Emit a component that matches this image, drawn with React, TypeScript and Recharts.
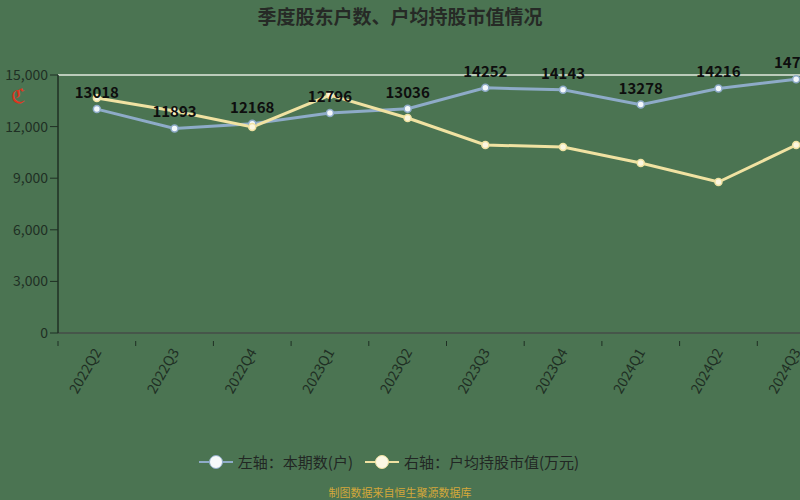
import React from "react";
import { ComposedChart, Line, XAxis, YAxis, CartesianGrid, LabelList } from "recharts";

const quarters = ["2022Q2", "2022Q3", "2022Q4", "2023Q1", "2023Q2", "2023Q3", "2023Q4", "2024Q1", "2024Q2", "2024Q3"];
const holders = [13018, 11893, 12168, 12796, 13036, 14252, 14143, 13278, 14216, 14758];
const avgValue = [27.33, 25.81, 23.95, 27.67, 25.0, 21.86, 21.63, 19.77, 17.56, 21.86];
const leftTicks = [0, 3000, 6000, 9000, 12000, 15000];

const seriesNames = ["左轴：本期数(户)", "右轴：户均持股市值(万元)"];

const data = quarters.map((q, i) => ({ quarter: q, holders: holders[i], avg: avgValue[i] }));

const BG = "#4b7452";
const BLUE = "#8eabc8";
const YELLOW = "#f0e2a2";
const AXIS = "#1f2f24";
const FONT = "'Noto Sans CJK SC', 'Noto Sans', sans-serif";

function QuarterTick(props: any) {
  const { x, y, payload } = props;
  const off = payload && payload.offset != null ? payload.offset : 38.85;
  return (
    <g transform={`translate(${x},${y})`}>
      <line x1={-off} y1={0} x2={-off} y2={5} stroke={AXIS} strokeWidth={1} />
      <text
        x={0}
        y={0}
        transform="translate(5,11) rotate(-60)"
        textAnchor="end"
        fontSize={14}
        fill={AXIS}
        fontFamily={FONT}
      >
        {payload.value}
      </text>
    </g>
  );
}

const fmt = (v: number) => v.toLocaleString("en-US");

function LegendItem({ color, fill, label }: { color: string; fill: string; label: string }) {
  return (
    <div style={{ display: "flex", alignItems: "center", marginRight: 12 }}>
      <svg width={34} height={16}>
        <line x1={0} y1={8} x2={34} y2={8} stroke={color} strokeWidth={2} />
        <circle cx={17} cy={8} r={6.5} fill={fill} stroke={color} strokeWidth={1} />
      </svg>
      <span style={{ marginLeft: 5 }}>{label}</span>
    </div>
  );
}

export default function App() {
  return (
    <div
      style={{
        position: "fixed",
        left: 0,
        top: 0,
        width: 800,
        height: 500,
        overflow: "hidden",
        background: BG,
        fontFamily: FONT,
      }}
    >
      <div
        style={{
          position: "absolute",
          top: 2,
          left: 0,
          width: 800,
          textAlign: "center",
          fontSize: 19,
          fontWeight: 700,
          color: "#262a26",
        }}
      >
        季度股东户数、户均持股市值情况
      </div>
      <div style={{ position: "absolute", left: 11, top: 84, color: "#e0341e", fontSize: 20, fontFamily: "DejaVu Sans" }}>ℭ</div>
      <div style={{ position: "absolute", left: 0, top: 0 }}>
        <ComposedChart width={850} height={500} data={data} margin={{ top: 75, right: 15, left: 0, bottom: 0 }}>
          <CartesianGrid vertical={false} stroke="#e2eadf" strokeWidth={1.5} />
          <XAxis
            dataKey="quarter"
            scale="band"
            height={167}
            interval={0}
            axisLine={{ stroke: AXIS, strokeWidth: 1.5 }}
            tickLine={false}
            tick={<QuarterTick />}
          />
          <YAxis
            yAxisId="left"
            width={58}
            domain={[0, 15000]}
            ticks={leftTicks}
            tickFormatter={fmt}
            axisLine={{ stroke: AXIS, strokeWidth: 1.5 }}
            tickLine={{ stroke: AXIS }}
            tickSize={8}
            tick={{ fill: AXIS, fontSize: 14, fontFamily: FONT }}
          />
          <YAxis yAxisId="right" orientation="right" domain={[0, 30]} hide />
          <Line
            yAxisId="left"
            dataKey="holders"
            name={seriesNames[0]}
            stroke={BLUE}
            strokeWidth={3}
            dot={{ r: 3.5, fill: "#f4f8fb", stroke: BLUE, strokeWidth: 1.5 }}
            isAnimationActive={false}
          >
            <LabelList
              dataKey="holders"
              position="top"
              offset={11}
              fill="#0e0e0e"
              fontSize={15}
              fontWeight={600}
              fontFamily={FONT}
            />
          </Line>
          <Line
            yAxisId="right"
            dataKey="avg"
            name={seriesNames[1]}
            stroke={YELLOW}
            strokeWidth={3}
            dot={{ r: 3.5, fill: "#fbf6e0", stroke: YELLOW, strokeWidth: 1.5 }}
            isAnimationActive={false}
          />
        </ComposedChart>
      </div>
      <div
        style={{
          position: "absolute",
          top: 451,
          left: 0,
          width: 790,
          display: "flex",
          justifyContent: "center",
          fontSize: 15,
          color: "#222724",
        }}
      >
        <LegendItem color={BLUE} fill="#f6f9fb" label={seriesNames[0]} />
        <LegendItem color={YELLOW} fill="#fdf8e4" label={seriesNames[1]} />
      </div>
      <div
        style={{
          position: "absolute",
          top: 484,
          left: 0,
          width: 800,
          textAlign: "center",
          fontSize: 11,
          color: "#d4a83a",
        }}
      >
        制图数据来自恒生聚源数据库
      </div>
    </div>
  );
}
